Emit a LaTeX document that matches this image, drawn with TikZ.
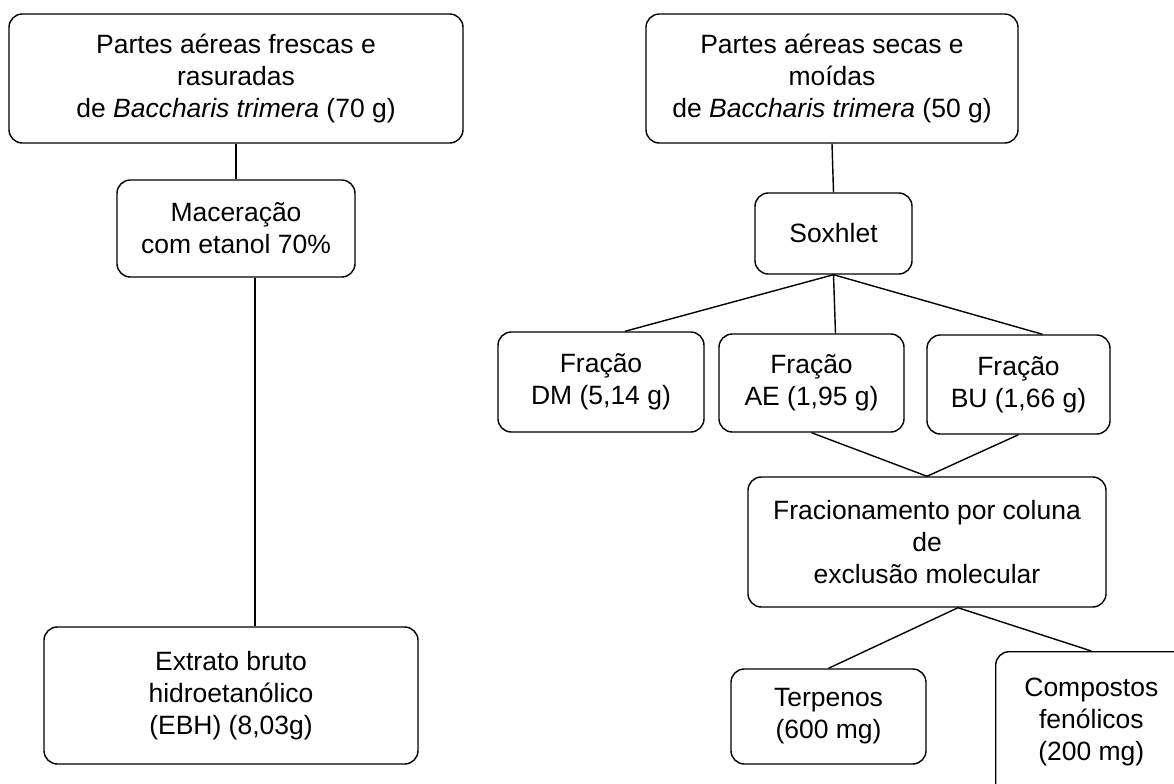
\documentclass[tikz,border=0pt]{standalone}
\usepackage{fontspec}
\setmainfont{Liberation Sans}
\usepackage{tikz}
\usetikzlibrary{positioning,calc}

\begin{document}
\begin{tikzpicture}[
    box/.style={rectangle, rounded corners=0.2cm, draw=black, line width=0.6pt, align=center, inner sep=0pt,
        font=\fontsize{11.3}{13.7}\selectfont},
    link/.style={line width=0.6pt}
]
    \useasboundingbox (0,0) rectangle (17.61,-11.745);

    % left branch: fresh material
    \node[box, minimum width=6.81cm, minimum height=1.935cm] (fresh) at (3.54,-1.1775)
        {Partes aéreas frescas e\\rasuradas\\de \textit{Baccharis trimera} (70 g)};
    \node[box, minimum width=3.57cm, minimum height=1.455cm] (macer) at (3.54,-3.4275)
        {Maceração\\com etanol 70\%};
    \node[box, minimum width=5.61cm, minimum height=2.055cm] (ebh) at (3.465,-10.4325)
        {Extrato bruto\\hidroetanólico\\(EBH) (8,03g)};

    % right branch: dried material
    \node[box, minimum width=5.58cm, minimum height=1.935cm] (dry) at (12.48,-1.1775)
        {Partes aéreas secas e\\moídas\\de \textit{Baccharis trimera} (50 g)};
    \node[box, minimum width=2.355cm, minimum height=1.215cm] (soxhlet) at (12.5025,-3.5025) {Soxhlet};
    \node[box, minimum width=3.09cm, minimum height=1.5cm] (dm) at (9.015,-5.73) {Fração\\DM (5,14 g)};
    \node[box, minimum width=2.775cm, minimum height=1.47cm] (ae) at (12.1725,-5.745) {Fração\\AE (1,95 g)};
    \node[box, minimum width=2.745cm, minimum height=1.485cm] (bu) at (15.2775,-5.7675) {Fração\\BU (1,66 g)};
    \node[box, minimum width=5.37cm, minimum height=1.95cm] (frac) at (13.905,-8.13)
        {Fracionamento por coluna\\de\\exclusão molecular};
    \node[box, minimum width=2.925cm, minimum height=1.425cm] (terp) at (12.4275,-10.7475) {Terpenos\\ (600 mg)};
    \node[box, anchor=north west, minimum width=3.1cm, minimum height=2.3cm] (comp) at (14.925,-9.765) {};
    \node[align=center, inner sep=0pt, font=\fontsize{11.3}{13.7}\selectfont] (comptext) at (16.37,-10.83)
        {Compostos\\fenólicos\\ (200 mg)};

    \draw[link] (fresh.south) -- (macer.north);
    \draw[link] ([xshift=0.285cm]macer.south) -- ([xshift=0.285cm]macer.south |- ebh.north);

    \draw[link] (dry.south) -- (soxhlet.north);
    \draw[link] (soxhlet.south) -- ([xshift=0.36cm]dm.north);
    \draw[link] (soxhlet.south) -- ([xshift=0.36cm]ae.north);
    \draw[link] (soxhlet.south) -- ([xshift=0.36cm]bu.north);
    \draw[link] (ae.south) -- (frac.north);
    \draw[link] (bu.south) -- (frac.north);
    \draw[link] ([xshift=0.465cm]frac.south) -- (terp.north);
    \draw[link] ([xshift=0.465cm]frac.south) -- (comp.north -| comptext);
\end{tikzpicture}
\end{document}
